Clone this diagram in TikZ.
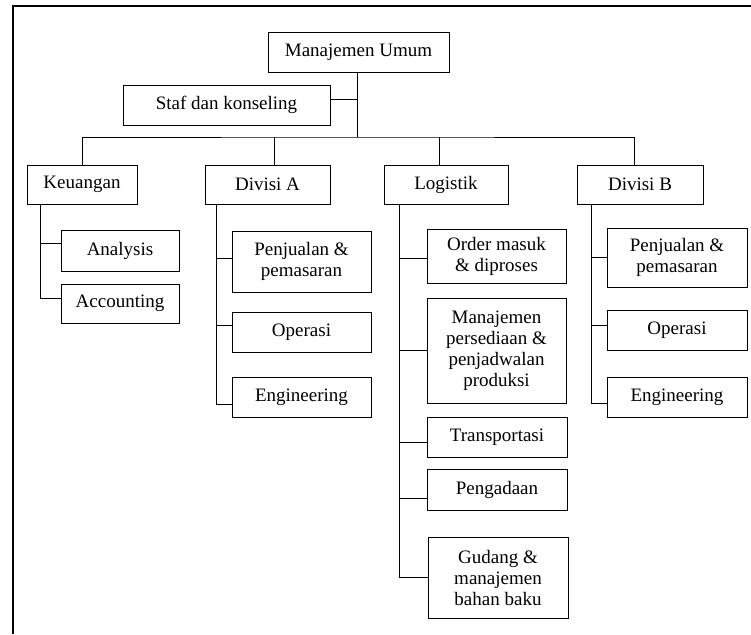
\documentclass[tikz,border=0pt]{standalone}
\usepackage{fontspec}
\setmainfont{Liberation Serif}
\begin{document}
\begin{tikzpicture}[x=1pt,y=-1pt,
  box/.style={draw, line width=0.9pt, inner sep=0pt, align=center,
    font=\fontsize{19}{21}\selectfont},
  link/.style={line width=0.9pt},
  frame/.style={line width=2.2pt}]
\useasboundingbox (0,0) rectangle (751,634);

% outer frame (top and left edges only)
\draw[frame] (751,6) -- (13,6) -- (13,634);

% top level
\node[box, minimum width=181pt, minimum height=40pt] (mu) at (358.5,52) {Manajemen Umum};
\node[box, minimum width=207pt, minimum height=40pt] (staf) at (226.5,105) {Staf dan konseling};

% departments
\node[box, minimum width=110pt, minimum height=39pt] (keu)  at (82,184.5)  {Keuangan};
\node[box, minimum width=125pt, minimum height=39pt] (diva) at (267.5,184.5) {Divisi A};
\node[box, minimum width=124pt, minimum height=39pt] (log)  at (446,184.5) {Logistik};
\node[box, minimum width=126pt, minimum height=39pt] (divb) at (640,184.5) {Divisi B};

% Keuangan units
\node[box, minimum width=118pt, minimum height=41pt] (ana) at (120,250.5) {Analysis};
\node[box, minimum width=118pt, minimum height=39pt] (acc) at (120,303.5) {Accounting};

% Divisi A units
\node[box, minimum width=139pt, minimum height=61pt] (pa)  at (301.5,261.5) {Penjualan \&\\pemasaran};
\node[box, minimum width=139pt, minimum height=40pt] (opa) at (301.5,332) {Operasi};
\node[box, minimum width=139pt, minimum height=40pt] (ena) at (301.5,397) {Engineering};

% Logistik units
\node[box, minimum width=139pt, minimum height=54pt]  (om) at (496.5,256) {Order masuk\\\& diproses};
\node[box, minimum width=139pt, minimum height=105pt] (mp) at (496.5,350.5) {Manajemen\\persediaan \&\\penjadwalan\\produksi};
\node[box, minimum width=140pt, minimum height=40pt]  (tr) at (497,437) {Transportasi};
\node[box, minimum width=140pt, minimum height=41pt]  (pg) at (497,489.5) {Pengadaan};
\node[box, minimum width=140pt, minimum height=81pt]  (gd) at (498,577.5) {Gudang \&\\manajemen\\bahan baku};

% Divisi B units
\node[box, minimum width=140pt, minimum height=59pt] (pb) at (677,257.5) {Penjualan \&\\pemasaran};
\node[box, minimum width=140pt, minimum height=40pt] (ob) at (677,330) {Operasi};
\node[box, minimum width=140pt, minimum height=40pt] (eb) at (677,397) {Engineering};

% bus under the general management
\coordinate (bus) at (357,137);
\draw[link] ([xshift=-1.5pt]mu.south) -- (bus);
\draw[link] ([yshift=6pt]staf.east) -- ([xshift=-1.5pt,yshift=6pt]mu.south |- staf.east);
\draw[link] (keu.north) |- (bus) -| ([xshift=-6pt]divb.north);
\draw[link] ([xshift=6.5pt]diva.north) -- ([xshift=6.5pt]diva.north |- bus);
\draw[link] ([xshift=-7pt]log.north) -- ([xshift=-7pt]log.north |- bus);

% Keuangan trunk
\coordinate (tk) at ([xshift=14pt]keu.south west);
\draw[link] (tk) |- ([yshift=5.5pt]acc.west);
\draw[link] (tk |- ana.west) ++(0,-7.5) -- ([yshift=7.5pt]ana.west);

% Divisi A trunk
\coordinate (ta) at ([xshift=12pt]diva.south west);
\draw[link] (ta) |- ([yshift=-7pt]ena.west);
\draw[link] (ta |- pa.west) ++(0,-3.5) -- ([yshift=3.5pt]pa.west);
\draw[link] (ta |- opa.west) ++(0,-7) -- ([yshift=7pt]opa.west);

% Logistik trunk
\coordinate (tl) at ([xshift=16pt]log.south west);
\draw[link] (tl) |- (gd.west);
\draw[link] (tl |- om.west) ++(0,2) -- ([yshift=-2pt]om.west);
\draw[link] (tl |- mp.west) -- (mp.west);
\draw[link] (tl |- tr.west) ++(0,5) -- ([yshift=-5pt]tr.west);
\draw[link] (tl |- pg.west) ++(0,8.5) -- ([yshift=-8.5pt]pg.west);

% Divisi B trunk
\coordinate (tb) at ([xshift=15pt]divb.south west);
\draw[link] (tb) |- ([yshift=-6pt]eb.west);
\draw[link] (tb |- pb.west) -- (pb.west);
\draw[link] (tb |- ob.west) ++(0,-5) -- ([yshift=5pt]ob.west);
\end{tikzpicture}
\end{document}
